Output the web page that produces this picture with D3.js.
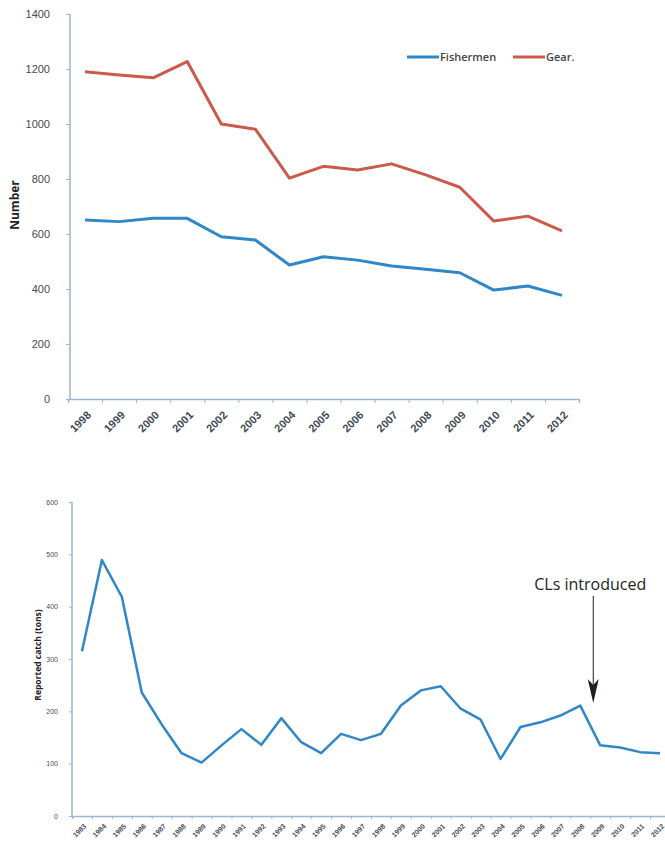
<!DOCTYPE html>
<html>
<head>
<meta charset="utf-8">
<script src="https://cdn.jsdelivr.net/npm/d3@7"></script>
<style>
  body { margin: 0; background: #fff; }
  svg { display: block; font-family: "Open Sans", sans-serif; }
  .axis path, .axis line { stroke: #9ab6d0; }
  .axis text { fill: #3f4a55; }
</style>
</head>
<body>
<svg id="chart" width="665" height="846"></svg>
<script>
// top panel: fishermen and gear counts
var topYears = ["1998","1999","2000","2001","2002","2003","2004","2005","2006","2007","2008","2009","2010","2011","2012"];
var fishermen = [651, 645, 657, 657, 590, 578, 487, 517, 505, 484, 472, 459, 396, 411, 377];
var gear = [1190, 1178, 1168, 1227, 1000, 981, 803, 846, 833, 855, 815, 770, 647, 665, 611];
var topTicks = [0, 200, 400, 600, 800, 1000, 1200, 1400];

// bottom panel: reported catch
var catchYears = ["1983","1984","1985","1986","1987","1988","1989","1990","1991","1992","1993","1994","1995","1996","1997",
    "1998","1999","2000","2001","2002","2003","2004","2005","2006","2007","2008","2009","2010","2011","2012"];
var reportedCatch = [315, 489, 419, 236, 175, 120, 102, 135, 166, 136, 187, 141, 120, 157, 145,
    157, 211, 240, 248, 205, 184, 109, 170, 179, 192, 211, 135, 131, 122, 120];
var catchTicks = [0, 100, 200, 300, 400, 500, 600];

var blue = "#2f87c8", red = "#cb5a4b";
var svg = d3.select("#chart");

function drawTop() {
    var x = d3.scaleBand().domain(topYears).range([68, 579]).padding(0);
    var y = d3.scaleLinear().domain([0, 1400]).range([399, 14]);
    var g = svg.append("g");

    // tick marks sit on the category borders, like excel
    g.append("g").attr("class", "axis")
        .attr("transform", "translate(0,399)")
        .call(d3.axisBottom(d3.scaleLinear().domain([0, topYears.length]).range([68, 579]))
            .ticks(topYears.length).tickSize(4).tickFormat(""))
        .select(".domain").attr("stroke-width", 1.5);

    g.append("g").attr("class", "axis")
        .attr("transform", "translate(0,399)")
        .call(d3.axisBottom(x).tickSize(0))
        .call(function (a) { a.select(".domain").remove(); })
        .selectAll("text")
        .attr("font-size", 11).attr("font-weight", 600)
        .attr("text-anchor", "end")
        .attr("x", 0).attr("y", 0).attr("dy", "0.35em")
        .attr("transform", "translate(4,14) rotate(-45)");

    g.append("g").attr("class", "axis")
        .attr("transform", "translate(70,0)")
        .call(d3.axisLeft(y).tickValues(topTicks).tickSize(4).tickPadding(16).tickFormat(d3.format("d")))
        .call(function (a) { a.select(".domain").attr("d", "M0,399V14").attr("stroke-width", 1.5); })
        .selectAll("text").attr("font-size", 11);

    g.append("text")
        .attr("transform", "translate(19,205) rotate(-90)")
        .attr("text-anchor", "middle")
        .attr("font-size", 12).attr("font-weight", 700).attr("fill", "#222")
        .text("Number");

    var line = d3.line()
        .x(function (d, i) { return x(topYears[i]) + x.bandwidth() / 2; })
        .y(function (d) { return y(d); });

    g.append("path").datum(gear)
        .attr("fill", "none").attr("stroke", red).attr("stroke-width", 3)
        .attr("stroke-linejoin", "round").attr("d", line);
    g.append("path").datum(fishermen)
        .attr("fill", "none").attr("stroke", blue).attr("stroke-width", 3)
        .attr("stroke-linejoin", "round").attr("d", line);

    var legend = g.append("g").attr("font-size", 11).attr("font-weight", 600).attr("fill", "#444")
        .selectAll("g")
        .data([{name: "Fishermen", c: blue, x: 407}, {name: "Gear.", c: red, x: 513}])
        .enter().append("g")
        .attr("transform", function (d) { return "translate(" + d.x + ",57)"; });
    legend.append("line").attr("x1", 0).attr("x2", 32)
        .attr("stroke", function (d) { return d.c; }).attr("stroke-width", 3);
    legend.append("text").attr("x", 33).attr("dy", "0.35em")
        .text(function (d) { return d.name; });
}

function drawBottom() {
    var x = d3.scaleBand().domain(catchYears).range([72, 670]).padding(0);
    var y = d3.scaleLinear().domain([0, 600]).range([816, 502]);
    var g = svg.append("g");

    g.append("g").attr("class", "axis")
        .attr("transform", "translate(0,816)")
        .call(d3.axisBottom(d3.scaleLinear().domain([0, catchYears.length]).range([72, 670]))
            .ticks(catchYears.length).tickSize(3).tickFormat(""))
        .select(".domain").attr("stroke-width", 1.5);

    g.append("g").attr("class", "axis")
        .attr("transform", "translate(0,816)")
        .call(d3.axisBottom(x).tickSize(0))
        .call(function (a) { a.select(".domain").remove(); })
        .selectAll("text")
        .attr("font-size", 7).attr("font-weight", 600)
        .attr("text-anchor", "end")
        .attr("x", 0).attr("y", 0).attr("dy", "0.35em")
        .attr("transform", "translate(3,9) rotate(-45)");

    g.append("g").attr("class", "axis")
        .attr("transform", "translate(72,0)")
        .call(d3.axisLeft(y).tickValues(catchTicks).tickSize(3).tickPadding(11).tickFormat(d3.format("d")))
        .call(function (a) { a.select(".domain").attr("d", "M0,816V502").attr("stroke-width", 1.5); })
        .selectAll("text").attr("font-size", 7);

    g.append("text")
        .attr("transform", "translate(38,655) rotate(-90)")
        .attr("text-anchor", "middle").attr("dy", "0.35em")
        .attr("font-size", 8.5).attr("font-weight", 700).attr("fill", "#222")
        .text("Reported catch (tons)");

    var line = d3.line()
        .x(function (d, i) { return x(catchYears[i]) + x.bandwidth() / 2; })
        .y(function (d) { return y(d); });

    g.append("path").datum(reportedCatch)
        .attr("fill", "none").attr("stroke", blue).attr("stroke-width", 2.5)
        .attr("stroke-linejoin", "round").attr("d", line);

    // annotation arrow, between 2008 and 2009
    var ax = x("2008") + x.bandwidth() * 1.15;
    g.append("text")
        .attr("x", ax - 3).attr("y", 590)
        .attr("text-anchor", "middle")
        .attr("font-size", 16).attr("fill", "#231f20")
        .text("CLs introduced");
    g.append("line")
        .attr("x1", ax).attr("x2", ax).attr("y1", 596).attr("y2", 690)
        .attr("stroke", "#231f20").attr("stroke-width", 1);
    g.append("path")
        .attr("d", "M" + ax + ",703L" + (ax - 5.5) + ",679L" + ax + ",685L" + (ax + 5.5) + ",679Z")
        .attr("fill", "#231f20");
}

drawTop();
drawBottom();
</script>
</body>
</html>
